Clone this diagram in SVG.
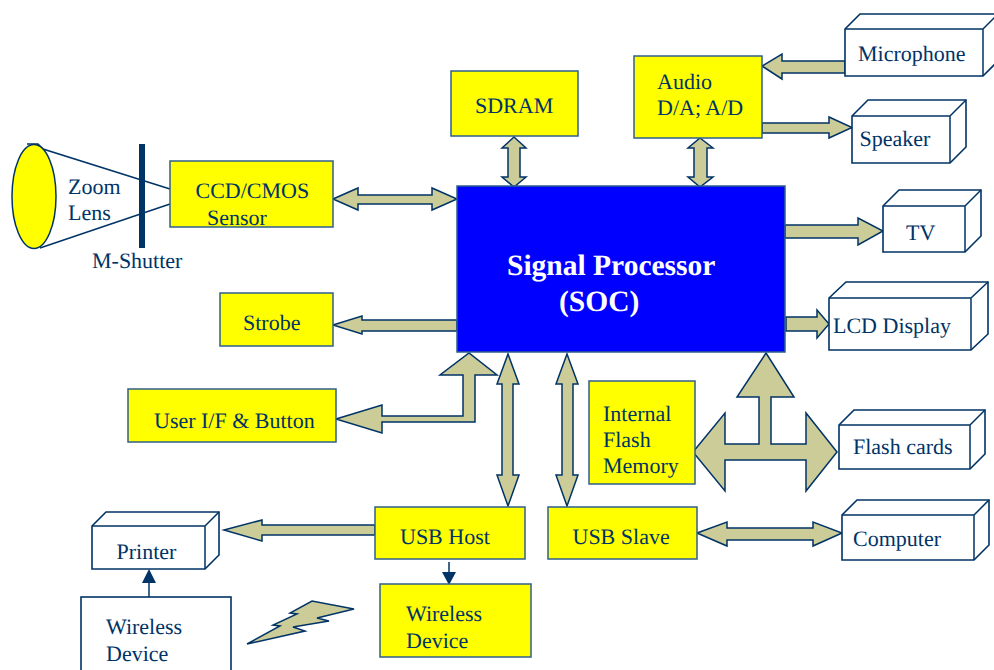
<svg xmlns="http://www.w3.org/2000/svg" width="994" height="670" viewBox="0 0 994 670">
<style>
text{font-family:"Liberation Serif","Times New Roman",serif;font-size:22px;fill:#003366;text-rendering:geometricPrecision}
.y{fill:#ffff00;stroke:#2f5f8a;stroke-width:1.5}
.w{fill:#ffffff;stroke:#003366;stroke-width:1.6}
.a{fill:#cccc99;stroke:#003366;stroke-width:1.5;stroke-linejoin:miter}
.l{fill:none;stroke:#003366;stroke-width:1.5}
.s{fill:#003366;stroke:none}
.t{font-weight:bold;font-size:29.5px;fill:#ffffff}
</style>
<rect width="994" height="670" fill="#ffffff"/>
<g id="connectors">
<path class="l" d="M27 144H38L43 149L170 189"/>
<line class="l" x1="40" y1="248" x2="170" y2="204"/>
<polygon class="a" points="333,199 358,188 358,195 432,195 432,188 457,199 432,210 432,204 358,204 358,210"/>
<polygon class="a" points="514,137 526,148 520,148 520,177 526,177 514,187 502,177 508,177 508,148 502,148"/>
<polygon class="a" points="700,138 713,148 707,148 707,177 713,177 700,187 688,177 694,177 694,148 688,148"/>
<polygon class="a" points="762,66 782,54 782,61 845,61 845,73 782,73 782,79"/>
<polygon class="a" points="762,123 829,123 829,117 852,127.500 829,138 829,133 762,133"/>
<polygon class="a" points="785,225 858,225 858,218 883,231 858,245 858,238 785,238"/>
<polygon class="a" points="786,317 817,317 817,310 829,324 817,338 817,331 786,331"/>
<polygon class="a" points="333,325 362,316 362,320 457,320 457,331 362,331 362,334"/>
<polygon class="a" points="336,419 382,405 382,416 463,416 463,375 440,375 469,353 497,375 475,375 475,422 382,422 382,433"/>
<polygon class="a" points="508,354 519,384 513,384 513,475 519,475 508,506 497,475 502,475 502,384 497,384"/>
<polygon class="a" points="567,354 578,384 573,384 573,475 578,475 567,506 556,475 562,475 562,384 556,384"/>
<polygon class="a" points="766,353 794,397 771,397 771,444 806,444 806,413 837,452 806,491 806,460 725,460 725,491 693,452 725,413 725,444 759,444 759,397 737,397"/>
<polygon class="a" points="697,533 727,522 727,528 813,528 813,522 842,533 813,546 813,540 727,540 727,546"/>
<polygon class="a" points="224,530 262,520 262,525 375,525 375,535 262,535 262,541"/>
<line class="l" x1="449" y1="562" x2="449" y2="573"/>
<polygon class="s" points="442,572 456,572 449,585"/>
<line class="l" x1="149" y1="597" x2="149" y2="582"/>
<polygon class="s" points="142,583 156,583 149,569"/>
<polygon class="a" points="247,644 280,626 273,625 297,614 290,613 312,601 354,609 317,618 329,621 293,627 305,631"/>
</g>
<g id="lens"><ellipse cx="34" cy="196.500" rx="22" ry="52" fill="#ffff00" stroke="#003366" stroke-width="1.5"/></g>
<g id="shutter"><rect x="139" y="144" width="6" height="104" fill="#003366"/></g>
<g id="zoom-lens-label"><text x="68" y="194">Zoom</text><text x="68" y="220">Lens</text></g>
<g id="m-shutter-label"><text x="92" y="268">M-Shutter</text></g>
<g id="ccd"><rect class="y" x="170" y="161" width="163" height="66"/><text x="195.500" y="198">CCD/CMOS</text><text x="207" y="225">Sensor</text></g>
<g id="sdram"><rect class="y" x="451" y="71" width="127" height="65"/><text x="475" y="113">SDRAM</text></g>
<g id="audio"><rect class="y" x="634" y="56" width="128" height="82"/><text x="657" y="89">Audio</text><text x="657" y="115">D/A; A/D</text></g>
<g id="soc"><rect x="457" y="186" width="328" height="166" fill="#0000ff" stroke="#2f5f8a" stroke-width="1.500"/><text class="t" x="507" y="275">Signal Processor</text><text class="t" x="559" y="311">(SOC)</text></g>
<g id="strobe"><rect class="y" x="220" y="293" width="113" height="53"/><text x="243" y="330">Strobe</text></g>
<g id="user-if"><rect class="y" x="128" y="389" width="208" height="53"/><text x="154" y="428">User I/F &amp; Button</text></g>
<g id="internal-flash"><rect class="y" x="589" y="381" width="106" height="103"/><text x="603" y="420.500">Internal</text><text x="603" y="446.500">Flash</text><text x="603" y="472.500">Memory</text></g>
<g id="usb-host"><rect class="y" x="375" y="507" width="150" height="52"/><text x="400" y="544">USB Host</text></g>
<g id="usb-slave"><rect class="y" x="548" y="507" width="149" height="52"/><text x="572.500" y="544">USB Slave</text></g>
<g id="wireless-yellow"><rect class="y" x="380" y="584" width="151" height="73"/><text x="406" y="621">Wireless</text><text x="406" y="648">Device</text></g>
<g id="wireless-white"><rect class="w" x="81" y="597" width="150" height="80"/><text x="106" y="634">Wireless</text><text x="106" y="661">Device</text></g>
<g id="microphone"><path class="w" d="M845 29L860 14H998V61L983 76H845Z"/><path class="l" d="M845 29H983V76M983 29L998 14"/><text x="858" y="61">Microphone</text></g>
<g id="speaker"><path class="w" d="M852 116L868 100H966V147L950 163H852Z"/><path class="l" d="M852 116H950V163M950 116L966 100"/><text x="859.500" y="146">Speaker</text></g>
<g id="tv"><path class="w" d="M883 206L899 190H981V236L965 252H883Z"/><path class="l" d="M883 206H965V252M965 206L981 190"/><text x="906" y="239.500">TV</text></g>
<g id="lcd"><path class="w" d="M829 298L846 282H988V334L971 350H829Z"/><path class="l" d="M829 298H971V350M971 298L988 282"/><text x="833" y="333">LCD Display</text></g>
<g id="flash-cards"><path class="w" d="M839 425L854 410H985V454L970 469H839Z"/><path class="l" d="M839 425H970V469M970 425L985 410"/><text x="853" y="454">Flash cards</text></g>
<g id="computer"><path class="w" d="M842 515L857 500H989V545L974 560H842Z"/><path class="l" d="M842 515H974V560M974 515L989 500"/><text x="853" y="546">Computer</text></g>
<g id="printer"><path class="w" d="M92 526L106 512H219V555L205 569H92Z"/><path class="l" d="M92 526H205V569M205 526L219 512"/><text x="116.500" y="559">Printer</text></g>
</svg>
